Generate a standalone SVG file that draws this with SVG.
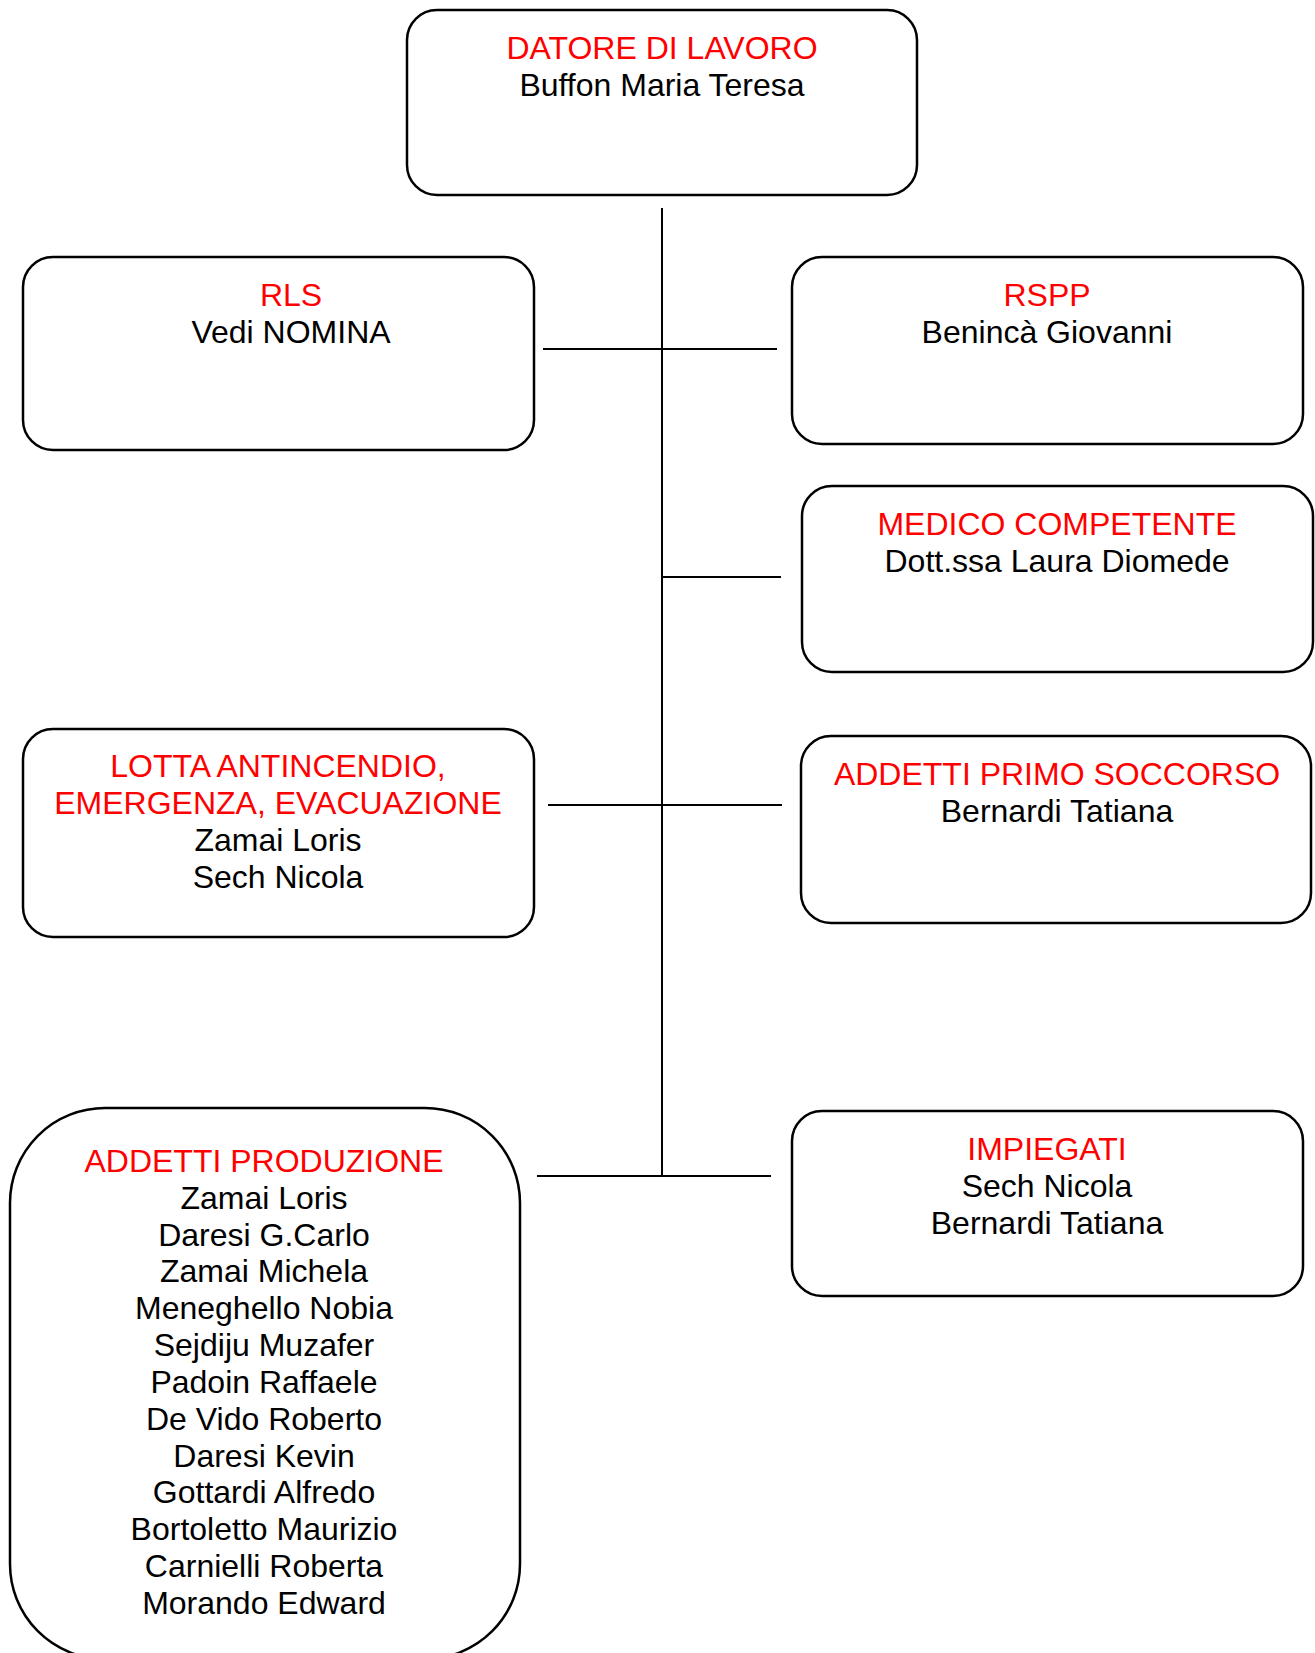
<svg xmlns="http://www.w3.org/2000/svg" width="1315" height="1653" viewBox="0 0 1315 1653">
<style>
.box{fill:#fff;stroke:#000;stroke-width:2.5}
.t{font-family:"Liberation Sans",Arial,sans-serif;font-size:32px;text-anchor:middle}
.r{fill:#ff0000}
.k{fill:#000}
.c{stroke:#000;stroke-width:2;fill:none}
</style>
<rect width="1315" height="1653" fill="#fff"/>
<g id="connectors">
<line class="c" x1="662" y1="208" x2="662" y2="1176"/>
<line class="c" x1="543" y1="349" x2="777" y2="349"/>
<line class="c" x1="662" y1="577" x2="781" y2="577"/>
<line class="c" x1="548" y1="805" x2="782" y2="805"/>
<line class="c" x1="537" y1="1176" x2="771" y2="1176"/>
</g>
<g id="datore">
<rect class="box" x="407" y="10" width="510" height="185" rx="30"/>
<text class="t r" x="662" y="59">DATORE DI LAVORO</text>
<text class="t k" x="662" y="96">Buffon Maria Teresa</text>
</g>
<g id="rls">
<rect class="box" x="23" y="257" width="511" height="193" rx="30"/>
<text class="t r" x="291" y="306">RLS</text>
<text class="t k" x="291" y="343">Vedi NOMINA</text>
</g>
<g id="rspp">
<rect class="box" x="792" y="257" width="511" height="187" rx="30"/>
<text class="t r" x="1047" y="306">RSPP</text>
<text class="t k" x="1047" y="343">Benincà Giovanni</text>
</g>
<g id="medico">
<rect class="box" x="802" y="486" width="511" height="186" rx="30"/>
<text class="t r" x="1057" y="535">MEDICO COMPETENTE</text>
<text class="t k" x="1057" y="572">Dott.ssa Laura Diomede</text>
</g>
<g id="lotta">
<rect class="box" x="23" y="729" width="511" height="208" rx="30"/>
<text class="t r" x="278" y="777">LOTTA ANTINCENDIO,</text>
<text class="t r" x="278" y="814">EMERGENZA, EVACUAZIONE</text>
<text class="t k" x="278" y="851">Zamai Loris</text>
<text class="t k" x="278" y="888">Sech Nicola</text>
</g>
<g id="primo-soccorso">
<rect class="box" x="801" y="736" width="510" height="187" rx="30"/>
<text class="t r" x="1057" y="785">ADDETTI PRIMO SOCCORSO</text>
<text class="t k" x="1057" y="822">Bernardi Tatiana</text>
</g>
<g id="produzione">
<rect class="box" x="10" y="1108" width="510" height="551" rx="95"/>
<text class="t r" x="264" y="1172">ADDETTI PRODUZIONE</text>
<text class="t k" x="264" y="1209">Zamai Loris</text>
<text class="t k" x="264" y="1246">Daresi G.Carlo</text>
<text class="t k" x="264" y="1282">Zamai Michela</text>
<text class="t k" x="264" y="1319">Meneghello Nobia</text>
<text class="t k" x="264" y="1356">Sejdiju Muzafer</text>
<text class="t k" x="264" y="1393">Padoin Raffaele</text>
<text class="t k" x="264" y="1430">De Vido Roberto</text>
<text class="t k" x="264" y="1467">Daresi Kevin</text>
<text class="t k" x="264" y="1503">Gottardi Alfredo</text>
<text class="t k" x="264" y="1540">Bortoletto Maurizio</text>
<text class="t k" x="264" y="1577">Carnielli Roberta</text>
<text class="t k" x="264" y="1614">Morando Edward</text>
</g>
<g id="impiegati">
<rect class="box" x="792" y="1111" width="511" height="185" rx="30"/>
<text class="t r" x="1047" y="1160">IMPIEGATI</text>
<text class="t k" x="1047" y="1197">Sech Nicola</text>
<text class="t k" x="1047" y="1234">Bernardi Tatiana</text>
</g>
</svg>
